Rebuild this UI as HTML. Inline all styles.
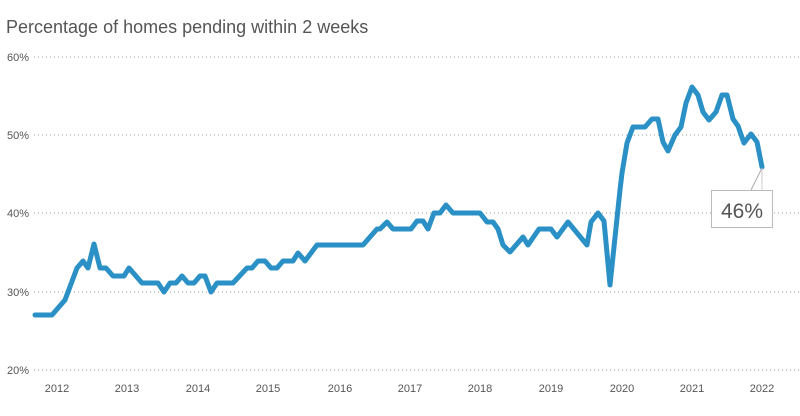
<!DOCTYPE html>
<html><head><meta charset="utf-8"><style>
body{margin:0;background:#fff;width:800px;height:416px;overflow:hidden}
svg{display:block;font-family:"Liberation Sans",sans-serif}
</style></head><body>
<svg width="800" height="416" viewBox="0 0 800 416">
<text x="6" y="33" font-size="18" fill="#555">Percentage of homes pending within 2 weeks</text>
<g stroke="#999" stroke-width="1" stroke-dasharray="1,3">
<line x1="34" y1="57" x2="800" y2="57"/><line x1="34" y1="135" x2="800" y2="135"/>
<line x1="34" y1="213" x2="800" y2="213"/><line x1="34" y1="292" x2="800" y2="292"/>
<line x1="34" y1="370" x2="800" y2="370"/></g>
<g font-size="11" fill="#555" text-anchor="end">
<text x="29" y="61">60%</text><text x="29" y="139">50%</text><text x="29" y="217">40%</text>
<text x="29" y="296">30%</text><text x="29" y="374">20%</text></g>
<g font-size="11" fill="#555" text-anchor="middle">
<text x="57" y="392">2012</text><text x="127" y="392">2013</text><text x="198" y="392">2014</text>
<text x="268" y="392">2015</text><text x="340" y="392">2016</text><text x="410" y="392">2017</text>
<text x="480" y="392">2018</text><text x="551" y="392">2019</text><text x="622" y="392">2020</text>
<text x="692" y="392">2021</text><text x="762" y="392">2022</text></g>
<polyline fill="none" stroke="#2a90c5" stroke-width="5" stroke-linejoin="round" stroke-linecap="round" points="35,315 52,315 65,300 77,268 83,261 88,268 94,244 100,268 106,268 113,276 124,276 129,268 142,283 158,283 164,292 170,283 176,283 182,276 188,283 194,283 200,276 205,276 211,292 217,283 233,283 247,268 252,268 258,261 265,261 271,268 277,268 283,261 293,261 298,253 305,261 317,245 363,245 377,229 380,229 387,222 393,229 411,229 417,221 423,221 428,229 434,213 440,213 446,205 453,213 480,213 487,222 493,222 498,229 503,245 510,252 523,237 528,245 539,229 551,229 557,237 568,222 587,245 591,222 598,213 604,221 610,285 620,190 622,173 627,143 633,127 645,127 652,119 658,119 663,142 668,151 675,135 681,127 686,103 692,87 698,95 703,112 709,120 716,112 722,95 727,95 733,119 738,126 744,143 751,134 757,142 762,167"/>
<line x1="762" y1="168" x2="751" y2="190" stroke="#aaa" stroke-width="1"/>
<line x1="762" y1="168" x2="762" y2="190" stroke="#ccc" stroke-width="1"/>
<rect x="711.5" y="190.5" width="61" height="37" fill="#fff" stroke="#bbb"/>
<text x="742" y="218" font-size="21" fill="#555" text-anchor="middle">46%</text>
</svg>
</body></html>
